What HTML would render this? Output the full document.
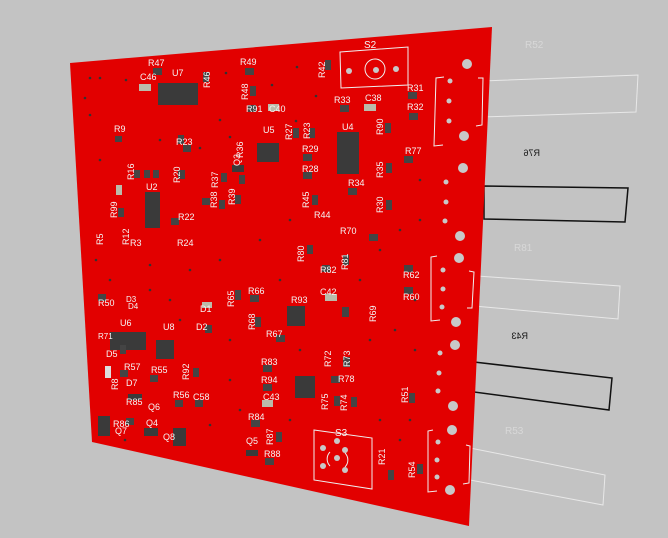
<!DOCTYPE html>
<html><head><style>
html,body{margin:0;padding:0;background:#c3c3c3;width:668px;height:538px;overflow:hidden}
svg{display:block}
text{font-family:"Liberation Sans",sans-serif;font-size:9px;fill:#f4f4f4}
.c{fill:#3a3a3a}
.h{fill:#c8c8c8}
.d{fill:#444}
</style></head><body>
<svg width="668" height="538" viewBox="0 0 668 538">
<rect width="668" height="538" fill="#c3c3c3"/>
<!-- off-board outlines -->
<polygon points="482,81 638,75 636,112 482,117" fill="none" stroke="#e8e8e8" stroke-width="1"/>
<polygon points="484,186 628,188 625,222 484,219" fill="none" stroke="#111" stroke-width="1.5"/>
<polygon points="477,276 620,286 618,319 474,306" fill="none" stroke="#e8e8e8" stroke-width="1"/>
<polygon points="474,362 612,378 609,410 474,392" fill="none" stroke="#111" stroke-width="1.5"/>
<polygon points="470,448 605,475 603,505 470,480" fill="none" stroke="#e8e8e8" stroke-width="1"/>
<text x="525" y="48" style="fill:#d8d8d8;font-size:10px">R52</text>
<text x="520" y="156" style="fill:#111;font-size:9px" transform="translate(1060,0) scale(-1,1)">R76</text>
<text x="514" y="251" style="fill:#d8d8d8;font-size:10px">R81</text>
<text x="508" y="339" style="fill:#111;font-size:9px" transform="translate(1036,0) scale(-1,1)">R43</text>
<text x="505" y="434" style="fill:#d8d8d8;font-size:10px">R53</text>
<!-- board -->
<polygon points="70,63 492,27 469,526 92,442" fill="#e20000"/>
<!-- right edge holes -->
<g class="h">
<circle cx="467" cy="64" r="5"/><circle cx="464" cy="136" r="5"/><circle cx="463" cy="168" r="5"/><circle cx="460" cy="236" r="5"/><circle cx="459" cy="258" r="5"/><circle cx="456" cy="322" r="5"/><circle cx="455" cy="345" r="5"/><circle cx="453" cy="406" r="5"/><circle cx="452" cy="430" r="5"/><circle cx="450" cy="490" r="5"/>
<circle cx="450" cy="81" r="2.5"/><circle cx="449" cy="101" r="2.5"/><circle cx="449" cy="121" r="2.5"/>
<circle cx="446" cy="182" r="2.5"/><circle cx="446" cy="202" r="2.5"/><circle cx="445" cy="221" r="2.5"/>
<circle cx="443" cy="270" r="2.5"/><circle cx="443" cy="289" r="2.5"/><circle cx="442" cy="307" r="2.5"/>
<circle cx="440" cy="353" r="2.5"/><circle cx="439" cy="373" r="2.5"/><circle cx="438" cy="391" r="2.5"/>
<circle cx="438" cy="442" r="2.5"/><circle cx="437" cy="460" r="2.5"/><circle cx="437" cy="477" r="2.5"/>
<circle cx="376" cy="70" r="3"/><circle cx="349" cy="71" r="3"/><circle cx="396" cy="69" r="3"/>
<circle cx="323" cy="448" r="3"/><circle cx="345" cy="450" r="3"/><circle cx="323" cy="466" r="3"/><circle cx="345" cy="470" r="3"/><circle cx="337" cy="458" r="3"/><circle cx="337" cy="441" r="3"/>
</g>
<g fill="none" stroke="#f0f0f0" stroke-width="1">
<polyline points="444,77 436,78 434,146 443,145"/><polyline points="478,78 483,78 482,125 476,126"/>
<polyline points="437,256 431,257 431,321 440,320"/><polyline points="469,271 474,272 472,308 467,308"/>
<polyline points="433,430 428,431 428,492 437,491"/><polyline points="466,445 470,446 469,483 463,484"/>
<polygon points="340,52 408,47 408,85 341,88"/>
<circle cx="375" cy="69" r="10"/>
<polygon points="314,430 372,438 372,489 314,480"/>
<path d="M330,452 a10,10 0 0,0 0,14 M345,453 a10,10 0 0,1 0,14"/>
</g>
<!-- ICs -->
<g class="c">
<rect x="158" y="83" width="40" height="22"/>
<rect x="337" y="132" width="22" height="42"/>
<rect x="257" y="143" width="22" height="19"/>
<rect x="145" y="192" width="15" height="36"/>
<rect x="110" y="332" width="36" height="18"/>
<rect x="156" y="340" width="18" height="19"/>
<rect x="287" y="306" width="18" height="20"/>
<rect x="295" y="376" width="20" height="22"/>
<rect x="98" y="416" width="12" height="20"/>
<rect x="173" y="428" width="13" height="18"/>
<rect x="144" y="428" width="14" height="8"/>
<rect x="246" y="450" width="12" height="6"/>
<rect x="232" y="165" width="12" height="7"/>
<rect x="128" y="394" width="14" height="6"/>
</g>
<!-- small parts -->
<g class="d">
<rect x="153" y="68" width="9" height="7"/><rect x="139" y="84" width="12" height="7" fill="#bba"/><rect x="203" y="72" width="6" height="10"/>
<rect x="245" y="68" width="9" height="7"/><rect x="250" y="86" width="6" height="10"/><rect x="248" y="105" width="8" height="7"/><rect x="268" y="104" width="11" height="7" fill="#bba"/>
<rect x="325" y="60" width="6" height="10"/><rect x="340" y="105" width="9" height="7"/><rect x="364" y="104" width="12" height="7" fill="#bba"/>
<rect x="408" y="92" width="9" height="7"/><rect x="409" y="113" width="9" height="7"/><rect x="385" y="123" width="6" height="10"/><rect x="404" y="156" width="9" height="7"/>
<rect x="293" y="128" width="6" height="10"/><rect x="309" y="128" width="6" height="10"/><rect x="303" y="154" width="9" height="7"/><rect x="303" y="172" width="9" height="7"/>
<rect x="348" y="188" width="9" height="7"/><rect x="386" y="163" width="6" height="10"/><rect x="386" y="200" width="6" height="10"/><rect x="312" y="195" width="6" height="10"/>
<rect x="115" y="136" width="7" height="6"/><rect x="178" y="135" width="6" height="9"/><rect x="183" y="145" width="8" height="7"/><rect x="178" y="170" width="7" height="9"/>
<rect x="134" y="170" width="6" height="8"/><rect x="144" y="170" width="6" height="8"/><rect x="153" y="170" width="6" height="8"/><rect x="116" y="185" width="6" height="10" fill="#bba"/>
<rect x="221" y="173" width="6" height="9"/><rect x="239" y="175" width="6" height="9"/><rect x="219" y="200" width="6" height="9"/><rect x="235" y="195" width="6" height="9"/>
<rect x="202" y="198" width="8" height="7"/><rect x="118" y="208" width="6" height="9"/><rect x="171" y="218" width="8" height="7"/>
<rect x="307" y="245" width="6" height="9"/><rect x="322" y="265" width="8" height="7"/><rect x="343" y="255" width="6" height="10"/><rect x="369" y="234" width="9" height="7"/>
<rect x="325" y="294" width="12" height="7" fill="#bba"/><rect x="342" y="307" width="7" height="10"/><rect x="404" y="265" width="9" height="7"/><rect x="404" y="287" width="9" height="7"/>
<rect x="235" y="290" width="6" height="10"/><rect x="250" y="295" width="9" height="7"/><rect x="255" y="317" width="6" height="10"/><rect x="276" y="335" width="9" height="7"/>
<rect x="263" y="365" width="9" height="7"/><rect x="263" y="384" width="9" height="7"/><rect x="262" y="400" width="11" height="7" fill="#bba"/><rect x="251" y="420" width="9" height="7"/>
<rect x="276" y="432" width="6" height="10"/><rect x="265" y="458" width="9" height="7"/><rect x="331" y="376" width="9" height="7"/><rect x="334" y="396" width="6" height="10"/><rect x="351" y="397" width="6" height="10"/>
<rect x="409" y="393" width="6" height="10"/><rect x="388" y="470" width="6" height="10"/><rect x="417" y="464" width="6" height="10"/><rect x="343" y="357" width="7" height="10"/>
<rect x="98" y="294" width="8" height="7"/><rect x="120" y="345" width="6" height="9"/><rect x="120" y="370" width="8" height="7"/><rect x="150" y="375" width="8" height="7"/>
<rect x="175" y="400" width="8" height="7"/><rect x="195" y="400" width="8" height="7"/><rect x="126" y="418" width="8" height="7"/><rect x="193" y="368" width="6" height="9"/>
<rect x="105" y="366" width="6" height="12" fill="#ddd"/><rect x="202" y="302" width="10" height="6" fill="#bba"/><rect x="205" y="325" width="7" height="8"/>
</g>
<!-- labels -->
<text x="148" y="66">R47</text><text x="140" y="80">C46</text><text x="172" y="76">U7</text><text x="240" y="65">R49</text>
<text x="364" y="48" style="font-size:10px">S2</text><text x="334" y="103">R33</text><text x="365" y="101">C38</text><text x="407" y="91">R31</text><text x="407" y="110">R32</text>
<text x="246" y="112">R91</text><text x="269" y="112">C40</text><text x="263" y="133">U5</text><text x="342" y="130">U4</text><text x="405" y="154">R77</text>
<text x="302" y="152">R29</text><text x="302" y="172">R28</text><text x="348" y="186">R34</text><text x="314" y="218">R44</text><text x="340" y="234">R70</text>
<text x="114" y="132">R9</text><text x="176" y="145">R23</text><text x="146" y="190">U2</text><text x="178" y="220">R22</text><text x="130" y="246">R3</text><text x="177" y="246">R24</text>
<text x="320" y="273">R82</text><text x="403" y="278">R62</text><text x="403" y="300">R60</text><text x="248" y="294">R66</text><text x="291" y="303">R93</text><text x="320" y="295">C42</text>
<text x="200" y="312">D1</text><text x="196" y="330">D2</text><text x="163" y="330">U8</text><text x="120" y="326">U6</text><text x="106" y="357">D5</text>
<text x="266" y="337">R67</text><text x="261" y="365">R83</text><text x="261" y="383">R94</text><text x="263" y="400">C43</text><text x="338" y="382">R78</text>
<text x="124" y="370">R57</text><text x="151" y="373">R55</text><text x="126" y="386">D7</text><text x="126" y="405">R85</text><text x="173" y="398">R56</text><text x="193" y="400">C58</text>
<text x="148" y="410">Q6</text><text x="146" y="426">Q4</text><text x="163" y="440">Q8</text><text x="113" y="427">R86</text><text x="115" y="434">Q7</text>
<text x="248" y="420">R84</text><text x="246" y="444">Q5</text><text x="264" y="457">R88</text><text x="335" y="436" style="font-size:10px">S3</text>
<text x="98" y="306">R50</text><text x="98" y="339" style="font-size:8px">R71</text><text x="126" y="302" style="font-size:8px">D3</text><text x="128" y="309" style="font-size:8px">D4</text>
<text transform="translate(325,78) rotate(-90)">R42</text><text transform="translate(210,88) rotate(-90)">R46</text><text transform="translate(248,100) rotate(-90)">R48</text>
<text transform="translate(292,140) rotate(-90)">R27</text><text transform="translate(310,139) rotate(-90)">R23</text><text transform="translate(383,135) rotate(-90)">R90</text>
<text transform="translate(383,178) rotate(-90)">R35</text><text transform="translate(383,213) rotate(-90)">R30</text><text transform="translate(309,208) rotate(-90)">R45</text>
<text transform="translate(243,158) rotate(-90)">R36</text><text transform="translate(240,166) rotate(-90)">Q3</text><text transform="translate(218,188) rotate(-90)">R37</text>
<text transform="translate(217,208) rotate(-90)">R38</text><text transform="translate(235,205) rotate(-90)">R39</text><text transform="translate(180,183) rotate(-90)">R20</text>
<text transform="translate(134,180) rotate(-90)">R16</text><text transform="translate(117,218) rotate(-90)">R99</text><text transform="translate(103,245) rotate(-90)">R5</text>
<text transform="translate(129,245) rotate(-90)">R12</text><text transform="translate(304,262) rotate(-90)">R80</text><text transform="translate(348,270) rotate(-90)">R81</text>
<text transform="translate(234,307) rotate(-90)">R65</text><text transform="translate(255,330) rotate(-90)">R68</text><text transform="translate(376,322) rotate(-90)">R69</text>
<text transform="translate(331,367) rotate(-90)">R72</text><text transform="translate(350,367) rotate(-90)">R73</text><text transform="translate(328,410) rotate(-90)">R75</text>
<text transform="translate(347,411) rotate(-90)">R74</text><text transform="translate(408,403) rotate(-90)">R51</text><text transform="translate(385,465) rotate(-90)">R21</text>
<text transform="translate(415,478) rotate(-90)">R54</text><text transform="translate(273,445) rotate(-90)">R87</text><text transform="translate(189,380) rotate(-90)">R92</text>
<text transform="translate(118,390) rotate(-90)">R8</text>
</g>
<!-- vias -->
<g fill="#333">
<circle cx="90" cy="78" r="1.3"/><circle cx="100" cy="78" r="1.3"/><circle cx="126" cy="80" r="1.3"/><circle cx="85" cy="98" r="1.3"/><circle cx="90" cy="115" r="1.3"/>
<circle cx="226" cy="73" r="1.3"/><circle cx="297" cy="67" r="1.3"/><circle cx="272" cy="85" r="1.3"/><circle cx="316" cy="96" r="1.3"/><circle cx="296" cy="121" r="1.3"/>
<circle cx="220" cy="120" r="1.3"/><circle cx="230" cy="137" r="1.3"/><circle cx="200" cy="148" r="1.3"/><circle cx="160" cy="140" r="1.3"/><circle cx="100" cy="160" r="1.3"/>
<circle cx="290" cy="220" r="1.3"/><circle cx="260" cy="240" r="1.3"/><circle cx="220" cy="260" r="1.3"/><circle cx="190" cy="270" r="1.3"/><circle cx="150" cy="265" r="1.3"/>
<circle cx="360" cy="280" r="1.3"/><circle cx="380" cy="250" r="1.3"/><circle cx="400" cy="230" r="1.3"/><circle cx="280" cy="280" r="1.3"/><circle cx="230" cy="340" r="1.3"/>
<circle cx="300" cy="350" r="1.3"/><circle cx="370" cy="340" r="1.3"/><circle cx="395" cy="330" r="1.3"/><circle cx="230" cy="380" r="1.3"/><circle cx="240" cy="410" r="1.3"/>
<circle cx="290" cy="420" r="1.3"/><circle cx="380" cy="420" r="1.3"/><circle cx="400" cy="440" r="1.3"/><circle cx="210" cy="425" r="1.3"/><circle cx="125" cy="440" r="1.3"/>
<circle cx="96" cy="260" r="1.3"/><circle cx="110" cy="280" r="1.3"/><circle cx="170" cy="300" r="1.3"/><circle cx="180" cy="320" r="1.3"/><circle cx="150" cy="290" r="1.3"/>
<circle cx="420" cy="180" r="1.3"/><circle cx="420" cy="220" r="1.3"/><circle cx="415" cy="300" r="1.3"/><circle cx="415" cy="350" r="1.3"/><circle cx="410" cy="420" r="1.3"/>
</g>
</svg>
</body></html>
